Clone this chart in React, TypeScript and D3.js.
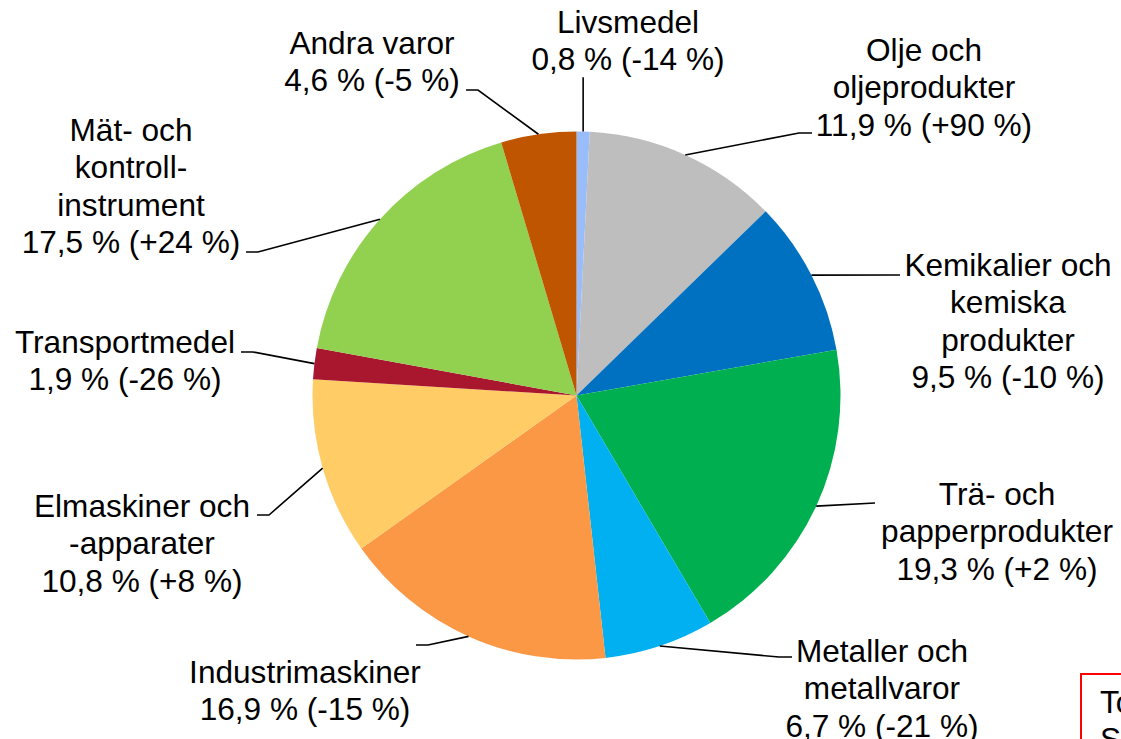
import React from "react";
import * as d3 from "d3";

// Export shares by product group, with change in parentheses
const categories = [
  ["Livsmedel"],
  ["Olje och", "oljeprodukter"],
  ["Kemikalier och", "kemiska", "produkter"],
  ["Trä- och", "papperprodukter"],
  ["Metaller och", "metallvaror"],
  ["Industrimaskiner"],
  ["Elmaskiner och", "-apparater"],
  ["Transportmedel"],
  ["Mät- och", "kontroll-", "instrument"],
  ["Andra varor"],
];
const shares = [0.8, 11.9, 9.5, 19.3, 6.7, 16.9, 10.8, 1.9, 17.5, 4.6];
const changes = ["-14", "+90", "-10", "+2", "-21", "-15", "+8", "-26", "+24", "-5"];
const colors = [
  "#99BDFB", "#BDBEBD", "#0070C0", "#00B050", "#00B0F0",
  "#FB9846", "#FFCC66", "#A8172E", "#92D050", "#C05500",
];

// Label placement: text centre x, first baseline y, elbow of the leader line
const labelLayout = [
  { x: 628, y: 33, elbow: null },
  { x: 924, y: 61, elbow: [812, 133] },
  { x: 1008, y: 276, elbow: [900, 275] },
  { x: 997, y: 505, elbow: [875, 503] },
  { x: 882, y: 662, elbow: [792, 657] },
  { x: 305, y: 683, elbow: [416, 645] },
  { x: 142, y: 517, elbow: [257, 515] },
  { x: 125, y: 353, elbow: [241, 352] },
  { x: 131, y: 141, elbow: [246, 252] },
  { x: 372, y: 54, elbow: [466, 90] },
];

const W = 1121;
const H = 739;
const cx = 576.5;
const cy = 395.5;
const R = 264;
const FONT = 31.6;
const LINE = 37.3;

const fmt = (v: number) => v.toFixed(1).replace(".", ",");

export default function App() {
  const pie = d3.pie<number>().sort(null).value((d) => d);
  const arcs = pie(shares);
  const arc = d3.arc<d3.PieArcDatum<number>>().innerRadius(0).outerRadius(R);

  return (
    <svg
      width={W}
      height={H}
      style={{ position: "absolute", left: 0, top: 0, background: "#fff" }}
      fontFamily="'Liberation Sans', Arial, sans-serif"
    >
      <g transform={`translate(${cx},${cy})`}>
        {arcs.map((a, i) => (
          <path key={i} d={arc(a) || ""} fill={colors[i]} />
        ))}
      </g>
      {arcs.map((a, i) => {
        const mid = (a.startAngle + a.endAngle) / 2;
        const px = cx + R * Math.sin(mid);
        const py = cy - R * Math.cos(mid);
        const lay = labelLayout[i];
        const lines = [...categories[i], `${fmt(shares[i])} % (${changes[i]} %)`];
        let pts: number[][];
        if (lay.elbow) {
          const [ex, ey] = lay.elbow;
          const right = ex > cx;
          const sx = right ? ex - 13 : ex + 12;
          pts = i === 2 || i === 3 ? [[px, py], [ex, ey]] : [[px, py], [sx, ey], [ex, ey]];
        } else {
          pts = [[px, py], [px, lay.y + LINE + 7]];
        }
        return (
          <g key={i}>
            <path
              d={d3.line()(pts as [number, number][]) || ""}
              fill="none"
              stroke="#000"
              strokeWidth={1.6}
            />
            <text textAnchor="middle" fontSize={FONT} fill="#000">
              {lines.map((t, j) => (
                <tspan key={j} x={lay.x} y={lay.y + j * LINE}>
                  {t}
                </tspan>
              ))}
            </text>
          </g>
        );
      })}
      <rect x={1081} y={674} width={80} height={100} fill="#fff" stroke="#FF0000" strokeWidth={2} />
      <text fontSize={FONT} fill="#000">
        <tspan x={1100} y={713}>Totalt</tspan>
        <tspan x={1100} y={750}>Summa</tspan>
      </text>
    </svg>
  );
}
